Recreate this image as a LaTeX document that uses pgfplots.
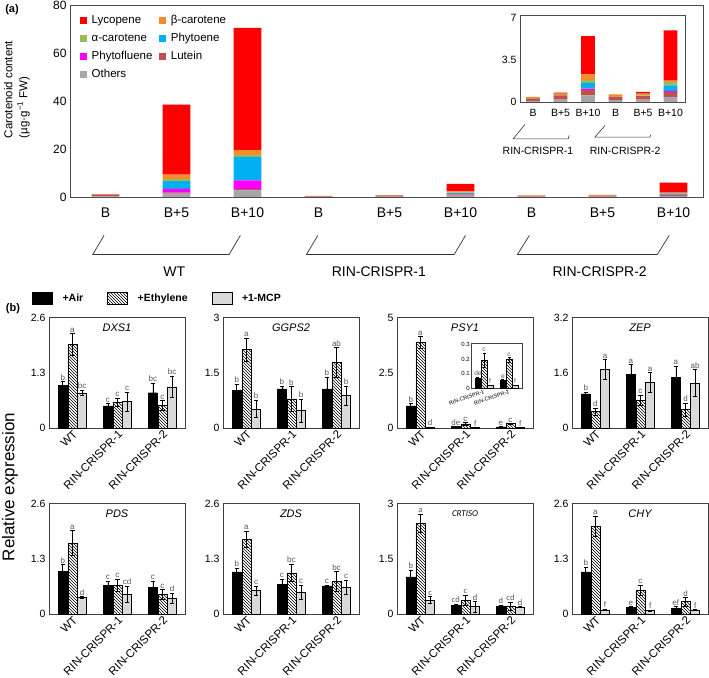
\documentclass[border=0pt]{standalone}
\usepackage{pgfplots}
\pgfplotsset{compat=1.18}
\usepackage{pgfplotstable}
\usepackage{fontspec}
\setmainfont{Liberation Sans}
\newfontfamily\carlito{Carlito}
\usetikzlibrary{patterns}
\newcommand{\fs}[1]{\fontsize{#1}{#1}\selectfont}

\definecolor{cLyc}{RGB}{255,0,0}
\definecolor{cBeta}{RGB}{247,140,40}
\definecolor{cAlpha}{RGB}{155,187,89}
\definecolor{cPhy}{RGB}{0,176,240}
\definecolor{cPhf}{RGB}{255,0,255}
\definecolor{cLut}{RGB}{192,80,77}
\definecolor{cOth}{RGB}{166,166,166}
\definecolor{cMCP}{RGB}{217,217,217}
\definecolor{labc}{RGB}{85,85,95}

% (a) carotenoids, categories WT B,B+5,B+10, R1 ..., R2 ...
\pgfplotstableread{
x oth lut phf phy alp bet lyc
0 0.30 0.70 0.00 0.00 0.00 0.10 0.10
1 1.40 0.40 1.60 3.20 0.80 1.90 29.2
2 2.80 0.50 3.60 9.80 0.80 2.00 51.0
3 0.10 0.20 0.00 0.00 0.00 0.12 0.00
4 0.20 0.35 0.00 0.00 0.05 0.10 0.08
5 0.56 0.45 0.10 0.50 0.25 0.45 3.20
6 0.15 0.30 0.00 0.00 0.00 0.19 0.00
7 0.20 0.30 0.00 0.00 0.05 0.15 0.14
8 0.42 0.42 0.10 0.45 0.30 0.10 4.20
}\carot
% inset: mutant lines only
\pgfplotstableread{
x oth lut phf phy alp bet lyc
0 0.10 0.20 0.00 0.00 0.00 0.12 0.00
1 0.20 0.35 0.00 0.00 0.05 0.10 0.08
2 0.56 0.45 0.10 0.50 0.25 0.45 3.20
3 0.15 0.30 0.00 0.00 0.00 0.19 0.00
4 0.20 0.30 0.00 0.00 0.05 0.15 0.14
5 0.42 0.42 0.10 0.45 0.30 0.10 4.20
}\carotin

% (b) relative expression: a=Air, e=Ethylene, m=1-MCP (value, error, letter)
\pgfplotstableread{
g a ae al e ee el m me ml
0 1.00 0.09 b 1.97 0.25 a 0.83 0.06 bc
1 0.52 0.06 c 0.61 0.10 c 0.62 0.23 c
2 0.83 0.23 bc 0.53 0.12 c 0.97 0.25 bc
}\dxs
\pgfplotstableread{
g a ae al e ee el m me ml
0 1.02 0.17 b 2.13 0.32 a 0.52 0.24 b
1 1.06 0.08 b 0.79 0.33 b 0.47 0.31 b
2 1.06 0.33 b 1.78 0.40 ab 0.88 0.26 b
}\ggps
\pgfplotstableread{
g a ae al e ee el m me ml
0 1.00 0.10 b 3.88 0.27 a 0.045 0.01 d
1 0.065 0.01 de 0.19 0.05 c 0.02 0.003 f
2 0.055 0.005 e 0.195 0.015 c 0.02 0.003 f
}\psy
\pgfplotstableread{
g a ae al e ee el m me ml
0 0.065 0.010 de 0.19 0.05 c 0.02 0.002 f
1 0.055 0.005 e 0.195 0.015 c 0.02 0.002 f
}\psyin
\pgfplotstableread{
g a ae al e ee el m me ml
0 0.99 0.05 b 0.48 0.10 d 1.70 0.29 a
1 1.56 0.28 a 0.81 0.14 c 1.32 0.28 a
2 1.46 0.33 a 0.53 0.19 d 1.31 0.39 ab
}\zep
\pgfplotstableread{
g a ae al e ee el m me ml
0 1.01 0.15 b 1.67 0.29 a 0.39 0.02 d
1 0.68 0.10 c 0.68 0.14 c 0.47 0.19 cd
2 0.63 0.15 c 0.46 0.12 c 0.37 0.12 d
}\pds
\pgfplotstableread{
g a ae al e ee el m me ml
0 0.99 0.09 b 1.76 0.19 a 0.55 0.11 c
1 0.70 0.12 c 0.97 0.20 bc 0.51 0.17 c
2 0.66 0.02 c 0.77 0.23 bc 0.63 0.17 c
}\zds
\pgfplotstableread{
g a ae al e ee el m me ml
0 1.01 0.18 b 2.46 0.25 a 0.38 0.09 c
1 0.23 0.04 cd 0.38 0.14 c 0.20 0.14 d
2 0.22 0.02 d 0.22 0.11 cd 0.19 0.02 d
}\crtiso
\pgfplotstableread{
g a ae al e ee el m me ml
0 0.99 0.12 b 2.07 0.23 a 0.10 0.02 f
1 0.16 0.02 e 0.56 0.12 c 0.08 0.01 f
2 0.14 0.04 ef 0.29 0.10 d 0.10 0.01 f
}\chy

\pgfplotsset{
 bplot/.style={
   anchor=south west, scale only axis, width=136pt, height=110.5pt,
   xmin=-0.52, xmax=2.5, ymin=0,
   xtick={0,1,2}, xticklabels={WT,RIN-CRISPR-1,RIN-CRISPR-2},
   xticklabel style={rotate=45, anchor=north east, font=\fs{11.5}, inner sep=1pt},
   yticklabel style={font=\fs{10.5}},
   major tick length=0pt,
   axis line style={black!75, line width=0.8pt},
   /pgf/number format/assume math mode=true,
   clip=false,
   error bars/error bar style={black, line width=0.5pt},
   error bars/error mark options={rotate=90, black, mark size=2.2pt, line width=0.5pt},
 },
}

% #1 table, #2 bar width, #3 shift, #4 letter font
\newcommand{\bars}[4]{%
 \addplot[ybar, bar width=#2, fill=black, draw=black, line width=0.4pt, error bars/.cd, y dir=both, y explicit] table[x expr=\thisrow{g}-#3, y=a, y error=ae] {#1};
 \addplot[ybar, bar width=#2, pattern=north west lines, draw=black, line width=0.4pt, error bars/.cd, y dir=both, y explicit] table[x=g, y=e, y error=ee] {#1};
 \addplot[ybar, bar width=#2, fill=cMCP, draw=black, line width=0.4pt, error bars/.cd, y dir=both, y explicit] table[x expr=\thisrow{g}+#3, y=m, y error=me] {#1};
 \addplot[ybar, bar width=#2, draw=none, fill=none, nodes near coords, point meta=explicit symbolic, nodes near coords style={font=#4, text=labc, inner sep=1pt, anchor=south}] table[x expr=\thisrow{g}-#3, y expr=\thisrow{a}+\thisrow{ae}, meta=al] {#1};
 \addplot[ybar, bar width=#2, draw=none, fill=none, nodes near coords, point meta=explicit symbolic, nodes near coords style={font=#4, text=labc, inner sep=1pt, anchor=south}] table[x=g, y expr=\thisrow{e}+\thisrow{ee}, meta=el] {#1};
 \addplot[ybar, bar width=#2, draw=none, fill=none, nodes near coords, point meta=explicit symbolic, nodes near coords style={font=#4, text=labc, inner sep=1pt, anchor=south}] table[x expr=\thisrow{g}+#3, y expr=\thisrow{m}+\thisrow{me}, meta=ml] {#1};
}

\begin{document}
\begin{tikzpicture}
\path[use as bounding box] (0,0) rectangle (709pt,677pt);
\node[font=\bfseries\fs{11}] at (12pt,667pt) {(a)};
\node[font=\bfseries\fs{11}] at (13pt,368pt) {(b)};
\node[rotate=90, font=\fs{17}] at (10pt,190pt) {Relative expression};

% ---------------- (a) main ----------------
\begin{axis}[
  at={(70pt,480pt)}, anchor=south west, scale only axis,
  width=633pt, height=192pt,
  ybar stacked, bar width=0.39,
  xmin=-0.5, xmax=8.415, ymin=0, ymax=80,
  ytick={0,20,40,60,80},
  xtick={0,...,8},
  xticklabels={B,B+5,B+10,B,B+5,B+10,B,B+5,B+10},
  xticklabel style={font=\fs{14}, yshift=-7pt},
  yticklabel style={font=\fs{12}},
  major tick length=0pt,
  axis line style={black!70, line width=0.8pt},
  /pgf/number format/assume math mode=true,
  clip=false,
  ylabel={Carotenoid content\\(µg·g\textsuperscript{−1} FW)},
  ylabel style={at={(axis description cs:-0.084,0.56)}, anchor=center, align=left, font=\fontsize{11.5}{15}\selectfont},
  legend columns=2, legend cell align=left,
  legend style={draw=none, fill=none, at={(axis description cs:0.016,0.95)}, anchor=north west, font=\fs{11.5}, inner sep=0pt, nodes={inner sep=0pt, text height=8.5pt, text depth=2.5pt}, row sep=6.9pt, /tikz/every odd column/.append style={column sep=5.5pt}, /tikz/every even column/.append style={column sep=7pt}},
]
\addlegendimage{legend image code/.code={\fill[cLyc] (0pt,-3pt) rectangle (5.5pt,3pt);}}
\addlegendimage{legend image code/.code={\fill[cBeta] (0pt,-3pt) rectangle (5.5pt,3pt);}}
\addlegendimage{legend image code/.code={\fill[cAlpha] (0pt,-3pt) rectangle (5.5pt,3pt);}}
\addlegendimage{legend image code/.code={\fill[cPhy] (0pt,-3pt) rectangle (5.5pt,3pt);}}
\addlegendimage{legend image code/.code={\fill[cPhf] (0pt,-3pt) rectangle (5.5pt,3pt);}}
\addlegendimage{legend image code/.code={\fill[cLut] (0pt,-3pt) rectangle (5.5pt,3pt);}}
\addlegendimage{legend image code/.code={\fill[cOth] (0pt,-3pt) rectangle (5.5pt,3pt);}}
\addplot[fill=cOth, draw=none] table[x=x, y=oth] {\carot};
\addplot[fill=cLut, draw=none] table[x=x, y=lut] {\carot};
\addplot[fill=cPhf, draw=none] table[x=x, y=phf] {\carot};
\addplot[fill=cPhy, draw=none] table[x=x, y=phy] {\carot};
\addplot[fill=cAlpha, draw=none] table[x=x, y=alp] {\carot};
\addplot[fill=cBeta, draw=none] table[x=x, y=bet] {\carot};
\addplot[fill=cLyc, draw=none] table[x=x, y=lyc] {\carot};
\legend{Lycopene,β-carotene,α-carotene,Phytoene,Phytofluene,Lutein,Others}
\draw[black!80, line width=0.7pt] (axis cs:-0.02,-16) -- (axis cs:-0.18,-24) -- (axis cs:1.74,-24) -- (axis cs:1.90,-16);
\draw[black!80, line width=0.7pt] (axis cs:2.99,-16) -- (axis cs:2.83,-24) -- (axis cs:4.91,-24) -- (axis cs:5.07,-16);
\draw[black!80, line width=0.7pt] (axis cs:5.97,-16) -- (axis cs:5.80,-24) -- (axis cs:7.77,-24) -- (axis cs:7.94,-16);
\node[font=\fs{14}] at (axis cs:0.97,-31.3) {WT};
\node[font=\fs{14}] at (axis cs:3.85,-31.3) {RIN-CRISPR-1};
\node[font=\fs{14}] at (axis cs:6.96,-31.3) {RIN-CRISPR-2};
\end{axis}

% ---------------- (a) inset ----------------
\begin{axis}[
  at={(520pt,575pt)}, anchor=south west, scale only axis,
  width=165pt, height=87pt,
  ybar stacked, bar width=0.5,
  xmin=-0.473, xmax=5.527, ymin=0, ymax=7.28,
  ytick={0,3.5,7}, xtick={0,...,5},
  xticklabels={B,B+5,B+10,B,B+5,B+10},
  xticklabel style={font=\fs{10.5}, yshift=-4pt},
  yticklabel style={font=\fs{10.5}},
  major tick length=0pt,
  axis line style={black!70, line width=0.8pt},
  /pgf/number format/assume math mode=true,
  clip=false,
]
\addplot[fill=cOth, draw=none] table[x=x, y=oth] {\carotin};
\addplot[fill=cLut, draw=none] table[x=x, y=lut] {\carotin};
\addplot[fill=cPhf, draw=none] table[x=x, y=phf] {\carotin};
\addplot[fill=cPhy, draw=none] table[x=x, y=phy] {\carotin};
\addplot[fill=cAlpha, draw=none] table[x=x, y=alp] {\carotin};
\addplot[fill=cBeta, draw=none] table[x=x, y=bet] {\carotin};
\addplot[fill=cLyc, draw=none] table[x=x, y=lyc] {\carotin};
\draw[black!80, line width=0.6pt] (axis cs:-0.29,-1.87) -- (axis cs:-0.72,-3.08) -- (axis cs:1.28,-3.08) -- (axis cs:1.32,-2.8);
\draw[black!80, line width=0.6pt] (axis cs:2.62,-1.96) -- (axis cs:2.25,-2.94) -- (axis cs:4.25,-2.94) -- (axis cs:4.29,-2.74);
\node[font=\fs{10.5}] at (axis cs:0.18,-4.06) {RIN-CRISPR-1};
\node[font=\fs{10.5}] at (axis cs:3.35,-4.06) {RIN-CRISPR-2};
\end{axis}

% ---------------- (b) row 1 ----------------
\begin{axis}[bplot, at={(49pt,249pt)}, ymax=2.6, ytick={0,1.3,2.6},
  legend columns=3, legend cell align=left,
  legend style={draw=none, fill=none, at={(axis description cs:-0.125,1.173)}, anchor=west, font=\bfseries\fs{10.5}, inner sep=0pt, nodes={inner sep=0pt}, /tikz/every odd column/.append style={column sep=10pt}, /tikz/every even column/.append style={column sep=24pt}}]
\addlegendimage{legend image code/.code={\draw[black, fill=black] (0pt,-6pt) rectangle (20pt,6pt);}}
\addlegendimage{legend image code/.code={\draw[black, pattern=north west lines] (0pt,-6pt) rectangle (20pt,6pt);}}
\addlegendimage{legend image code/.code={\draw[black, fill=cMCP] (0pt,-6pt) rectangle (20pt,6pt);}}
\bars{\dxs}{0.2}{0.215}{\fs{8}}
\legend{+Air,+Ethylene,+1-MCP}
\node[font=\itshape\fs{11}, anchor=north, yshift=-3pt] at (rel axis cs:0.5,1) {DXS1};
\end{axis}

\begin{axis}[bplot, at={(223pt,249pt)}, ymax=3, ytick={0,1.5,3}]
\bars{\ggps}{0.2}{0.215}{\fs{8}}
\node[font=\itshape\fs{11}, anchor=north, yshift=-3pt] at (rel axis cs:0.5,1) {GGPS2};
\end{axis}

\begin{axis}[bplot, at={(397pt,249pt)}, ymax=5, ytick={0,2.5,5}]
\bars{\psy}{0.2}{0.215}{\fs{8}}
\node[font=\itshape\fs{11}, anchor=north, yshift=-3pt] at (rel axis cs:0.5,1) {PSY1};
\end{axis}

\begin{axis}[
  at={(471pt,289pt)}, anchor=south west, scale only axis, width=51pt, height=45pt,
  xmin=-0.52, xmax=1.52, ymin=0, ymax=0.31,
  ytick={0,0.1,0.2,0.3}, xtick={0,1},
  xticklabels={RIN-CRISPR-1,RIN-CRISPR-2},
  xticklabel style={rotate=20, anchor=north east, font=\fs{5.5}, inner sep=1pt},
  yticklabel style={font=\fs{6}, inner sep=1pt},
  major tick length=0pt, axis line style={black!75, line width=0.7pt},
  /pgf/number format/assume math mode=true, clip=false,
  error bars/error bar style={black, line width=0.4pt},
  error bars/error mark options={rotate=90, black, mark size=1.5pt, line width=0.4pt},
]
\bars{\psyin}{0.23}{0.245}{\fs{6.5}}
\end{axis}

\begin{axis}[bplot, at={(572pt,249pt)}, ymax=3.2, ytick={0,1.6,3.2}]
\bars{\zep}{0.2}{0.215}{\fs{8}}
\node[font=\itshape\fs{11}, anchor=north, yshift=-3pt] at (rel axis cs:0.5,1) {ZEP};
\end{axis}

% ---------------- (b) row 2 ----------------
\begin{axis}[bplot, at={(49pt,63pt)}, ymax=2.6, ytick={0,1.3,2.6}]
\bars{\pds}{0.2}{0.215}{\fs{8}}
\node[font=\itshape\fs{11}, anchor=north, yshift=-3pt] at (rel axis cs:0.5,1) {PDS};
\end{axis}

\begin{axis}[bplot, at={(223pt,63pt)}, ymax=2.6, ytick={0,1.3,2.6}]
\bars{\zds}{0.2}{0.215}{\fs{8}}
\node[font=\itshape\fs{11}, anchor=north, yshift=-3pt] at (rel axis cs:0.5,1) {ZDS};
\end{axis}

\begin{axis}[bplot, at={(397pt,63pt)}, ymax=3, ytick={0,1.5,3}]
\bars{\crtiso}{0.2}{0.215}{\carlito\fs{8.5}}
\node[font=\carlito\itshape\fs{9}, anchor=north, yshift=-4pt] at (rel axis cs:0.5,1) {CRTISO};
\end{axis}

\begin{axis}[bplot, at={(572pt,63pt)}, ymax=2.6, ytick={0,1.3,2.6}]
\bars{\chy}{0.2}{0.215}{\fs{8}}
\node[font=\itshape\fs{11}, anchor=north, yshift=-3pt] at (rel axis cs:0.5,1) {CHY};
\end{axis}
\end{tikzpicture}
\end{document}
